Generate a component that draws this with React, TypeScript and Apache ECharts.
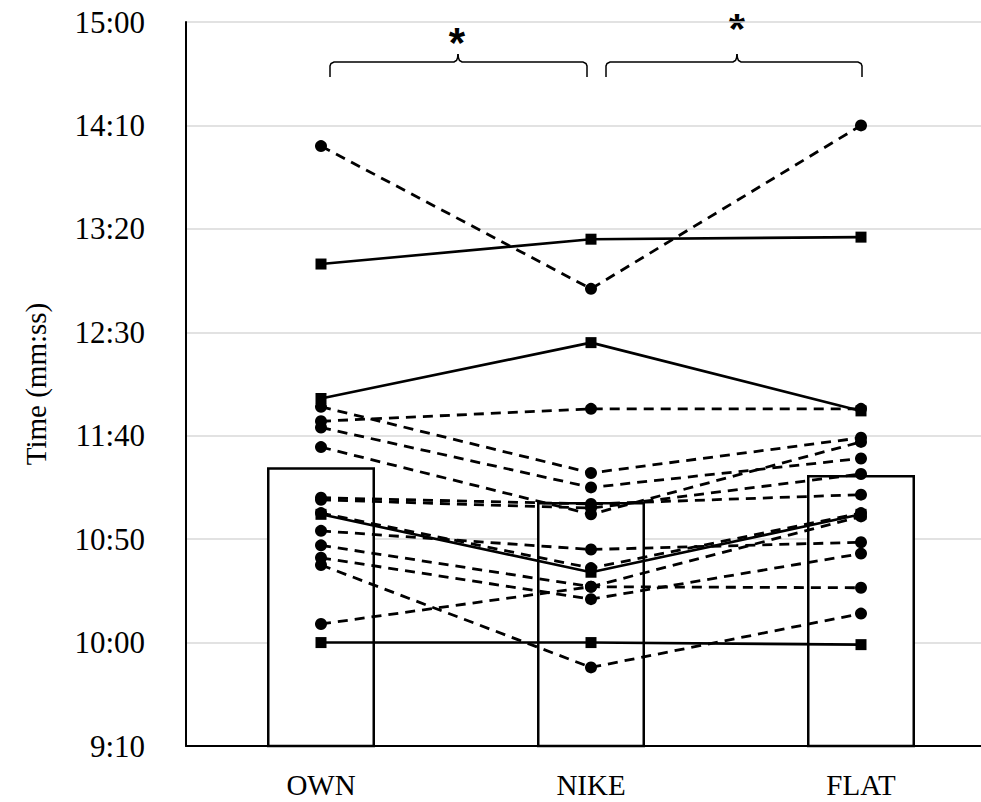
import React, { useEffect, useRef } from "react";
import * as echarts from "echarts";

// Conditions (x axis)
const categories = ["OWN", "NIKE", "FLAT"];
// Group means (seconds) shown as open bars
const barMeans = [684.7, 668, 681];
// Runners drawn with solid lines + square markers (seconds: OWN, NIKE, FLAT)
const solidRunners = [
  [783, 795, 796],
  [718, 745, 712],
  [662, 634, 662],
  [600, 600, 599],
];
// Runners drawn with dashed lines + circle markers (seconds: OWN, NIKE, FLAT)
const dashedRunners = [
  [840, 771, 850],
  [707, 713, 713],
  [714, 682, 699],
  [704, 675, 689],
  [694.5, 662, 697],
  [670, 667, 671.5],
  [669, 665, 681.5],
  [662.6, 636, 662.6],
  [654, 645, 648.5],
  [647, 627, 626.5],
  [641, 621, 643],
  [637.5, 588, 614],
  [609, 627, 661],
];
// Y axis range in seconds (9:10 .. 15:00, step 0:50)
const yMin = 550;
const yMax = 900;
const yStep = 50;

const fmt = (v: number) => {
  const m = Math.floor(v / 60);
  const s = Math.round(v - m * 60);
  return `${m}:${String(s).padStart(2, "0")}`;
};

export default function App() {
  const ref = useRef<HTMLDivElement>(null);
  useEffect(() => {
    if (!ref.current) return;
    const chart = echarts.init(ref.current, undefined, { renderer: "svg" });
    const serif = "'Liberation Serif', 'Times New Roman', serif";
    const series: any[] = [
      {
        type: "bar",
        data: barMeans,
        barWidth: 108,
        z: 1,
        itemStyle: { color: "#ffffff", borderColor: "#000", borderWidth: 2.5 },
        silent: true,
      },
    ];
    dashedRunners.forEach((d) => {
      series.push({
        type: "line",
        data: d,
        z: 3,
        symbol: "circle",
        symbolSize: 12,
        showAllSymbol: true,
        lineStyle: { color: "#000", width: 2.8, type: [10, 7] },
        itemStyle: { color: "#000" },
      });
    });
    solidRunners.forEach((d) => {
      series.push({
        type: "line",
        data: d,
        z: 4,
        symbol: "rect",
        symbolSize: 11,
        showAllSymbol: true,
        lineStyle: { color: "#000", width: 2.6, type: "solid" },
        itemStyle: { color: "#000" },
      });
    });

    const br = (x0: number, xc: number, x1: number, yH: number, yE: number, yC: number) => [
      {
        type: "polyline",
        shape: {
          points: [
            [x0, yE], [x0, yH + 4], [x0 + 1, yH + 1.5], [x0 + 4, yH],
            [xc - 4, yH], [xc - 1.5, yH - 1.5], [xc - 0.5, yH - 4], [xc, yC],
          ],
        },
        style: { stroke: "#000", lineWidth: 1.5, fill: null },
      },
      {
        type: "polyline",
        shape: {
          points: [
            [xc, yC], [xc + 0.5, yH - 4], [xc + 1.5, yH - 1.5], [xc + 4, yH],
            [x1 - 4, yH], [x1 - 1, yH + 1.5], [x1, yH + 4], [x1, yE],
          ],
        },
        style: { stroke: "#000", lineWidth: 1.5, fill: null },
      },
    ];

    chart.setOption({
      animation: false,
      textStyle: { fontFamily: serif },
      grid: { left: 186, top: 22, width: 810, height: 724, outerBoundsMode: "none", containLabel: false },
      xAxis: {
        type: "category",
        data: categories,
        boundaryGap: true,
        axisLine: { lineStyle: { color: "#000", width: 2 } },
        axisTick: { show: false },
        axisLabel: { color: "#000", fontSize: 29, fontFamily: serif, margin: 24 },
      },
      yAxis: {
        type: "value",
        min: yMin,
        max: yMax,
        interval: yStep,
        name: "Time (mm:ss)",
        nameLocation: "middle",
        nameRotate: 90,
        nameGap: 136,
        nameTextStyle: { color: "#000", fontSize: 29, fontFamily: serif },
        axisLine: { show: true, lineStyle: { color: "#000", width: 2 } },
        axisTick: { show: false },
        axisLabel: { color: "#000", fontSize: 31, fontFamily: serif, margin: 41, formatter: fmt },
        splitLine: { show: true, lineStyle: { color: "#d9d9d9", width: 1.5 } },
      },
      series,
      graphic: [
        ...br(330, 458, 587, 62, 77, 54),
        ...br(606, 737, 862, 62, 77, 54),
        {
          type: "text",
          x: 457,
          y: 42,
          style: { text: "*", font: "bold 42px 'Liberation Sans', Arial, sans-serif", fill: "#000", align: "center", verticalAlign: "middle" },
        },
        {
          type: "text",
          x: 737,
          y: 28,
          style: { text: "*", font: "bold 42px 'Liberation Sans', Arial, sans-serif", fill: "#000", align: "center", verticalAlign: "middle" },
        },
      ],
    });
    return () => chart.dispose();
  }, []);
  return (
    <div
      ref={ref}
      style={{ position: "fixed", left: 0, top: 0, width: 981, height: 802, background: "#fff" }}
    />
  );
}
